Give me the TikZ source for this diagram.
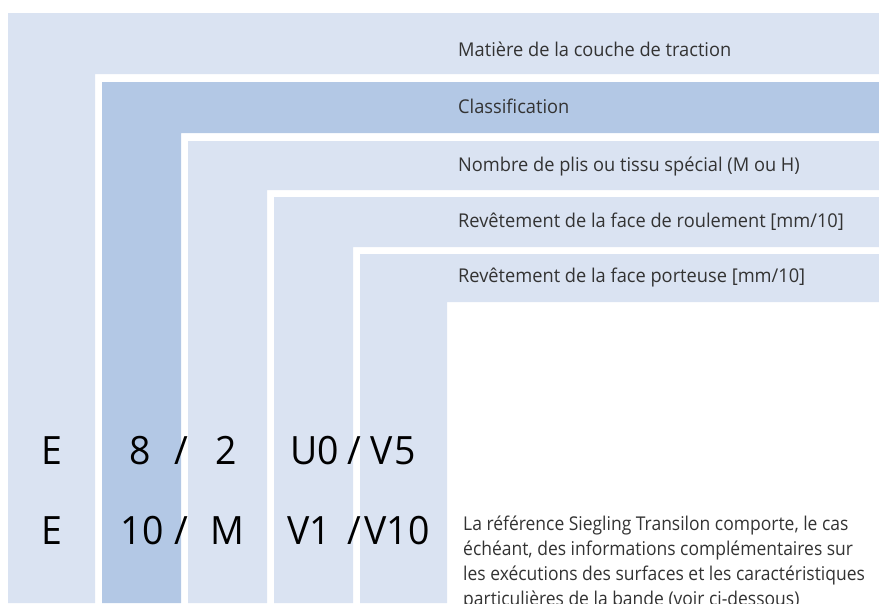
\documentclass[tikz,border=0pt]{standalone}
\usepackage{fontspec}
\setmainfont{Open Sans}[FakeStretch=0.96]
\definecolor{B1}{RGB}{218,227,242}
\definecolor{B2}{RGB}{179,200,229}
\definecolor{T1}{RGB}{51,51,51}

\begin{document}
\begin{tikzpicture}[x=1pt, y=-1pt,
    lbl/.style={anchor=base west, inner sep=0pt, text=T1, font=\fontsize{19}{22}\selectfont},
    note/.style={lbl, font=\fontsize{19}{22}\selectfont\addfontfeatures{FakeStretch=0.92}},
    big/.style={anchor=base, inner sep=0pt, text=black, font=\fontsize{39}{44}\selectfont}]
      \clip (0,0) rectangle (879,603);
      % bands: left / top / inner right / inner bottom / colour
      \foreach \xa/\ya/\xb/\yb/\c in {8/13/95/74/B1, 102/82/181/133/B2, 188/141/267/190/B1,
                                      274/197/353/247/B1, 360/254/447/302/B1}
        \fill[\c] (\xa,\ya) -- (879,\ya) -- (879,\yb) -- (\xb,\yb) -- (\xb,603) -- (\xa,603) -- cycle;
      % labels
      \node[lbl] (matiere) at (458, 56.7) {Matière de la couche de traction};
      \node[lbl] (classe)  at (458, 113)  {Classification};
      \node[lbl] (plis)    at (458, 171.7) {Nombre de plis ou tissu spécial (M ou H)};
      \node[lbl] (roul)    at (458, 227.3) {Revêtement de la face de roulement [mm/10]};
      \node[lbl] (port)    at (458, 282.7) {Revêtement de la face porteuse [mm/10]};
      % first example
      \node[big] (ea)  at (52, 464)    {E};
      \node[big] (na)  at (140.7, 464) {8};
      \node[big] (sa)  at (181.7, 464) {/};
      \node[big] (pa)  at (226.5, 464) {2};
      \node[big] (ua)  at (315, 464)   {U0};
      \node[big] (ta)  at (354.5, 464) {/};
      \node[big] (va)  at (393, 464)   {V\kern2pt5};
      % second example
      \node[big] (eb)  at (52, 544)    {E};
      \node[big] (nb)  at (142, 544)   {10};
      \node[big] (sb)  at (181.7, 544) {/};
      \node[big] (pb)  at (227, 544)   {M};
      \node[big] (ub)  at (309.5, 544) {V1};
      \node[big] (tb)  at (354.5, 544) {/};
      \node[big] (vb)  at (397, 544)   {V10};
      % note
      \foreach \t [count=\i] in {{La référence Siegling Transilon comporte, le cas},
                                 {échéant, des informations complémentaires sur},
                                 {les exécutions des surfaces et les caractéristiques},
                                 {particulières de la bande (voir ci-dessous)}}
        \node[note] (note\i) at (463, 530+25*\i-25) {\t};
    \end{tikzpicture}
\end{document}
